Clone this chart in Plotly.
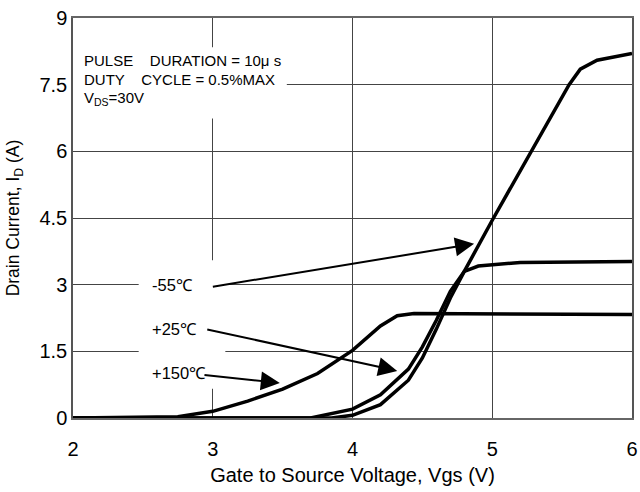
import plotly.graph_objects as go

# Data
vgs_m55 = [2, 3.0, 3.5, 3.85, 4.0, 4.2, 4.4, 4.5, 4.6, 4.7, 4.8, 5.0, 5.55, 5.63, 5.75, 6.0]
id_m55 = [0, 0, 0, 0, 0.06, 0.3, 0.85, 1.35, 2.0, 2.7, 3.3, 4.45, 7.5, 7.85, 8.05, 8.2]

vgs_25 = [2, 3.7, 4.0, 4.2, 4.4, 4.5, 4.6, 4.7, 4.8, 4.9, 5.2, 6.0]
id_25 = [0, 0, 0.2, 0.52, 1.1, 1.6, 2.2, 2.85, 3.3, 3.42, 3.5, 3.52]

vgs_150 = [2, 2.75, 3.0, 3.25, 3.5, 3.75, 4.0, 4.2, 4.32, 4.44, 6.0]
id_150 = [0, 0.03, 0.15, 0.38, 0.65, 1.0, 1.52, 2.07, 2.3, 2.35, 2.33]

x_ticks = [2, 3, 4, 5, 6]
y_ticks = [0, 1.5, 3, 4.5, 6, 7.5, 9]
y_tick_labels = ["0", "1.5", "3", "4.5", "6", "7.5", "9"]

labels = ["-55℃", "+25℃", "+150℃"]
label_pos = [(2.55, 3.0), (2.55, 2.0), (2.55, 1.02)]
arrow_tail = [(2.99, 2.95), (2.95, 2.0), (2.93, 0.97)]
arrow_tip = [(4.87, 3.92), (4.32, 1.06), (3.48, 0.79)]

FONT = "Liberation Sans, Arial, sans-serif"

fig = go.Figure()
for xs, ys in [(vgs_m55, id_m55), (vgs_25, id_25), (vgs_150, id_150)]:
    fig.add_trace(go.Scatter(x=xs, y=ys, mode="lines",
                             line=dict(color="black", width=3.5),
                             showlegend=False, hoverinfo="skip"))

# white boxes masking gridlines behind text
fig.add_shape(type="rect", x0=2, x1=3.53, y0=6.74, y1=8.34, xref="x", yref="y",
              fillcolor="white", line=dict(width=0), layer="between")
fig.add_shape(type="rect", x0=2.47, x1=3.09, y0=0.66, y1=3.55, xref="x", yref="y",
              fillcolor="white", line=dict(width=0), layer="between")

# condition text
cond_lines = ["PULSE    DURATION = 10μ s", "DUTY    CYCLE = 0.5%MAX", "V<sub>DS</sub>=30V"]
cond_y = [8.05, 7.62, 7.2]
for t, yv in zip(cond_lines, cond_y):
    fig.add_annotation(x=2.065, y=yv, xref="x", yref="y", text=t, showarrow=False,
                       xanchor="left", yanchor="middle",
                       font=dict(family=FONT, size=15, color="black"))

for lab, (lx, ly) in zip(labels, label_pos):
    fig.add_annotation(x=lx, y=ly, xref="x", yref="y", text=lab, showarrow=False,
                       xanchor="left", yanchor="middle",
                       font=dict(family=FONT, size=16.5, color="black"))

for (tx, ty), (hx, hy) in zip(arrow_tail, arrow_tip):
    fig.add_annotation(x=hx, y=hy, ax=tx, ay=ty, xref="x", yref="y", axref="x", ayref="y",
                       text="", showarrow=True, arrowhead=2, arrowsize=1.9, arrowwidth=2,
                       arrowcolor="black")

fig.update_xaxes(range=[2, 6], tickvals=x_ticks, ticktext=[str(v) for v in x_ticks],
                 showgrid=True, gridcolor="#444", gridwidth=1,
                 showline=True, linecolor="#666", linewidth=1.5, mirror=True,
                 ticks="", zeroline=False, automargin=False, ticklabelstandoff=12,
                 tickfont=dict(family=FONT, size=20, color="black"),
                 title=dict(text="Gate to Source Voltage, Vgs (V)", standoff=9,
                            font=dict(family=FONT, size=20, color="black")))
fig.update_yaxes(range=[0, 9], tickvals=y_ticks, ticktext=y_tick_labels,
                 showgrid=True, gridcolor="#444", gridwidth=1,
                 showline=True, linecolor="#555", linewidth=1.5, mirror=True,
                 ticks="", zeroline=False, automargin=False,
                 tickfont=dict(family=FONT, size=20, color="black"),
                 title=dict(text="Drain Current, I<sub>D</sub> (A)", standoff=15,
                            font=dict(family=FONT, size=17.5, color="black")))

fig.update_layout(width=640, height=492, plot_bgcolor="white", paper_bgcolor="white",
                  margin=dict(l=73, r=8, t=18, b=74), showlegend=False)

fig.write_html("out.html", config={"displayModeBar": False},
               post_script="document.body.style.margin='0px';document.body.style.overflow='hidden';")
